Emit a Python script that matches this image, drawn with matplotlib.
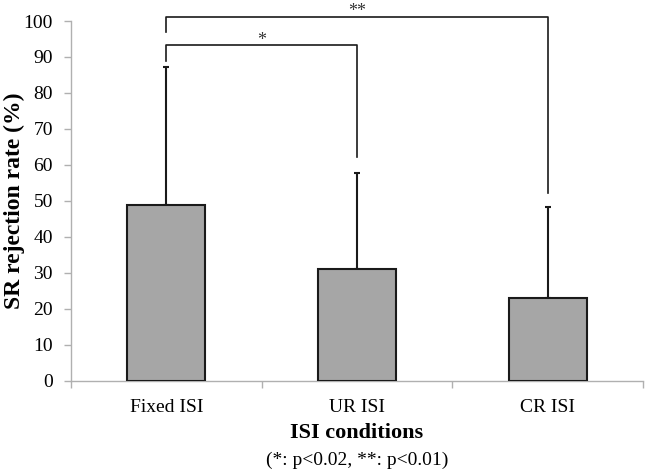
import matplotlib.pyplot as plt
import numpy as np

conditions = ["Fixed ISI", "UR ISI", "CR ISI"]
rates = [49.0, 31.0, 23.0]
sd_upper = [38.3, 26.7, 25.2]
# significance brackets: (left bar, right bar, height, left leg end, right leg end, label)
brackets = [(0, 1, 93.3, 89.0, 62.1, "*"), (0, 2, 101.2, 97.0, 52.2, "**")]

plt.rcParams['font.family'] = ['Liberation Serif', 'DejaVu Serif']

fig = plt.figure(figsize=(6.46, 4.72), dpi=100)
ax = fig.add_axes([0.110, 0.193, 0.8854, 0.7625])

x = np.arange(len(conditions))
ax.bar(x, rates, width=0.41, color="#a6a6a6", edgecolor="#1a1a1a", linewidth=1.5, zorder=3)
ax.errorbar(x, rates, yerr=[np.zeros(len(rates)), sd_upper], fmt="none", ecolor="#1a1a1a",
            elinewidth=1.5, capsize=2.5, capthick=1.5, zorder=2)

for i, j, h, yl, yr, lab in brackets:
    ax.plot([x[i], x[i], x[j], x[j]], [yl, h, h, yr], color="#1a1a1a", lw=1.2, clip_on=False)
    ax.text((x[i] + x[j]) / 2, h - 1.0, lab, ha="center", va="bottom", fontsize=13, color="#333333",
            clip_on=False)

ax.set_xlim(-0.5, 2.5)
ax.set_ylim(0, 100)
ax.set_yticks(np.arange(0, 101, 10))
ax.set_xticks(x)
ax.set_xticklabels(conditions, fontsize=14)
ax.set_xticks([-0.5, 0.5, 1.5, 2.5], minor=True)
ax.tick_params(axis="x", which="major", length=0, pad=13)
ax.tick_params(axis="x", which="minor", length=5, color="#b0b0b0", width=1)
ax.tick_params(axis="y", length=5, color="#b0b0b0", width=1, labelsize=14, pad=8)

for s in ["top", "right"]:
    ax.spines[s].set_visible(False)
for s in ["left", "bottom"]:
    ax.spines[s].set_color("#b0b0b0")
    ax.spines[s].set_linewidth(1)

ax.set_ylabel("SR rejection rate (%)", fontsize=17, fontweight="bold")
ax.yaxis.set_label_coords(-0.080, 0.5)
fig.text(0.5 * (0.110 + 0.9954), 1 - 433 / 472, "ISI conditions", ha="center", va="center",
         fontsize=16, fontweight="bold")
fig.text(0.5 * (0.110 + 0.9954), 1 - 460 / 472, "(*: p<0.02, **: p<0.01)", ha="center", va="center",
         fontsize=14)

fig.savefig("out.png", dpi=100)
